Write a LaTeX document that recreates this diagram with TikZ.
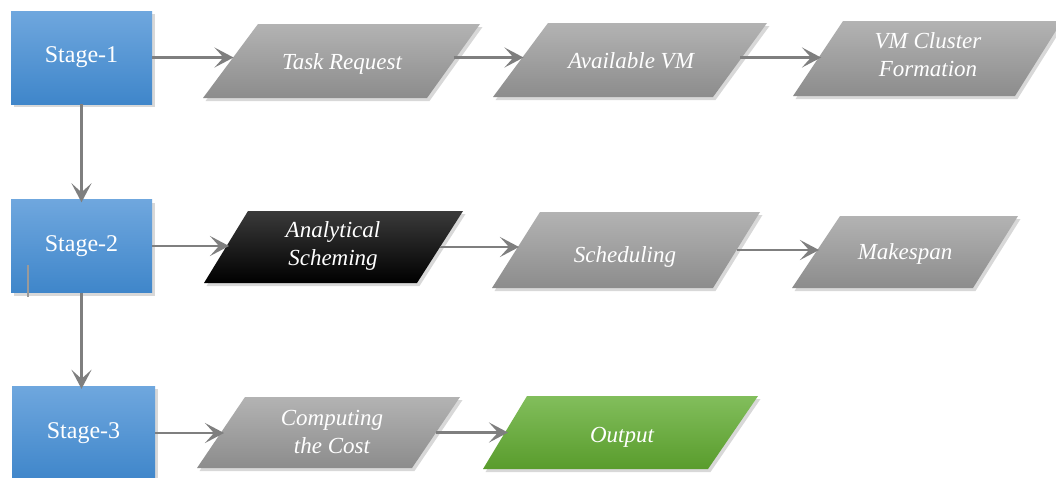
\documentclass[tikz,border=0pt]{standalone}
\usepackage{fontspec}
\setmainfont{Liberation Serif}
\usetikzlibrary{arrows.meta,shadows}
\definecolor{blueT}{HTML}{6FA7DE}
\definecolor{blueB}{HTML}{3F86CA}
\definecolor{grayT}{HTML}{B3B3B3}
\definecolor{grayB}{HTML}{8C8C8C}
\definecolor{blackT}{HTML}{3A3A3A}
\definecolor{blackB}{HTML}{000000}
\definecolor{greenT}{HTML}{82BE5C}
\definecolor{greenB}{HTML}{599C2C}
\definecolor{arrowgray}{HTML}{7F7F7F}
\definecolor{markgray}{HTML}{9A9A9A}

\newcommand\pgram[8]{%
  \path[#2] (#3,#5) -- (#4,#5) -- (#7,#8) -- (#6,#8) -- cycle;
  \coordinate (#1-w) at ({(#3+#6)/2},{(#5+#8)/2});
  \coordinate (#1-e) at ({(#4+#7)/2},{(#5+#8)/2});
}

\begin{document}
\begin{tikzpicture}[x=1pt,y=-1pt,
  shadowed/.style={drop shadow={shadow xshift=2.5pt,shadow yshift=-3pt,opacity=0.3}},
  stagebox/.style={shadowed, top color=blueT, bottom color=blueB, minimum width=141pt, minimum height=93pt, inner sep=0pt, text=white, font=\fontsize{24}{28}\selectfont},
  grayshape/.style={shadowed, top color=grayT, bottom color=grayB},
  blackshape/.style={shadowed, top color=blackT, bottom color=blackB},
  greenshape/.style={shadowed, top color=greenT, bottom color=greenB},
  lbl/.style={text=white, align=center, inner sep=0pt, font=\fontsize{23}{28}\selectfont\itshape},
  arr/.style={draw=arrowgray, line width=2.2pt, shorten >=-3pt, -{Stealth[length=19pt,width=20pt,inset=9pt]}},
  strayline/.style={draw=markgray, line width=1.5pt},
]
\fill[white] (0,0) rectangle (1056,477);
\useasboundingbox (0,0) rectangle (1056,477);

% stage boxes
\node[stagebox] (s1) at (81.5,57.5) {Stage-1};
\node[stagebox] (s2) at (81.5,246) {Stage-2};
\node[stagebox, minimum width=143pt, minimum height=94pt] (s3) at (83.5,433) {Stage-3};
\draw[strayline] (28,265) -- (28,297);

% row 1
\pgram{task}{grayshape}{258}{480}{24}{203}{427}{98}
\node[lbl] (task) at (342,64) {Task Request};
\pgram{avail}{grayshape}{548}{767}{23}{493}{713}{97}
\node[lbl] (avail) at (631,61) {Available VM};
\pgram{vmc}{grayshape}{843}{1062}{21}{793}{1015}{96}
\node[lbl] (vmc) at (928,55) {VM Cluster\\Formation};

% row 2
\pgram{ana}{blackshape}{248}{463}{211}{204}{417}{283}
\node[lbl] (ana) at (333,246) {Analytical\\Scheming};
\pgram{sched}{grayshape}{540}{760}{212}{492}{713}{288}
\node[lbl] (sched) at (625,257) {Scheduling};
\pgram{make}{grayshape}{840}{1018}{216}{792}{973}{288}
\node[lbl] (make) at (905,254) {Makespan};

% row 3
\pgram{comp}{grayshape}{245}{460}{397}{197}{412}{468}
\node[lbl] (comp) at (332,432) {Computing\\the Cost};
\pgram{out}{greenshape}{527}{758}{396}{483}{708}{469}
\node[lbl] (out) at (622,437) {Output};

% connectors
\draw[arr] (s1.east) -- (task-w |- s1.east);
\draw[arr] (task-e |- s1.east) -- (avail-w |- s1.east);
\draw[arr] (avail-e |- s1.east) -- (vmc-w |- s1.east);
\draw[arr] (s1.south) -- (s2.north);
\draw[arr] (s2.east) -- (ana-w |- s2.east);
\draw[arr] (ana-e) -- (sched-w |- ana-e);
\draw[arr] (sched-e) -- (make-w |- sched-e);
\draw[arr] (s2.south) -- (s2.south |- s3.north);
\draw[arr] (s3.east) -- (comp-w |- s3.east);
\draw[arr] (comp-e) -- (out-w |- comp-e);
\end{tikzpicture}
\end{document}
